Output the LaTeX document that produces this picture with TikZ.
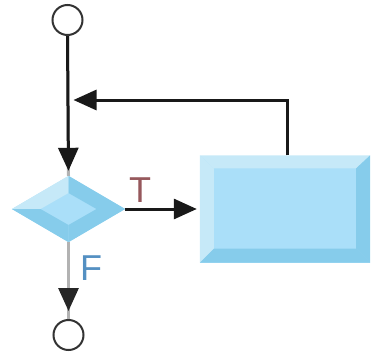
\documentclass[tikz,border=0pt]{standalone}
\usepackage{fontspec}
\setsansfont{Liberation Sans}
\usetikzlibrary{shapes.geometric, arrows.meta, positioning, calc}
\definecolor{fcmid}{RGB}{170,223,249}
\definecolor{fclight}{RGB}{198,233,248}
\definecolor{fcdark}{RGB}{134,204,235}
\definecolor{fcgrey}{RGB}{178,178,178}
\definecolor{fctrue}{RGB}{150,88,92}
\definecolor{fcfalse}{RGB}{84,144,194}

\begin{document}
\begin{tikzpicture}[
  x=1pt, y=-1pt,
  fcline/.style={draw=black!90, line width=3pt},
  fcgline/.style={draw=fcgrey, line width=3pt},
  fcarrow/.style={fcline, -{Triangle[length=23pt, width=20pt, color=black!90]}},
  fcterm/.style={circle, draw=black!80, line width=2pt, fill=white, minimum size=30pt, inner sep=0pt},
  fcdec/.style={diamond, fill=fcmid, minimum width=113pt, minimum height=66pt, inner sep=0pt},
  fcproc/.style={rectangle, fill=fcmid, minimum width=170pt, minimum height=107pt, inner sep=0pt},
  lab/.style={font=\sffamily\fontsize{36}{36}\selectfont, inner sep=0pt}
]
\useasboundingbox (0,0) rectangle (375,361);

%--------------------------------------------------------------
% Nodi
%--------------------------------------------------------------
\node[fcterm] (start) at (67.5,20) {};
\node[fcdec]  (dec)   at (68.5,209) {};
\node[fcproc] (proc)  at (285,209) {};
\node[fcterm] (stop)  at (68.5,335) {};

% smussatura del rombo
\fill[fclight] (dec.west) -- (dec.north) -- ($(dec.center)+(0,-16)$) -- ($(dec.center)+(-28,0)$) -- cycle;
\fill[fcdark] (dec.north) -- (dec.east) -- ($(dec.center)+(28,0)$) -- ($(dec.center)+(0,-16)$) -- cycle;
\fill[fcdark] (dec.east) -- (dec.south) -- ($(dec.center)+(0,16)$) -- ($(dec.center)+(28,0)$) -- cycle;
\fill[fcdark] (dec.south) -- (dec.west) -- ($(dec.center)+(-28,0)$) -- ($(dec.center)+(0,16)$) -- cycle;

% smussatura del rettangolo
\fill[fclight] (proc.north west) -- (proc.north east) -- ($(proc.north east)+(-14,13)$)
  -- ($(proc.north west)+(14,13)$) -- cycle;
\fill[fclight] (proc.north west) -- ($(proc.north west)+(14,13)$)
  -- ($(proc.south west)+(14,-14)$) -- (proc.south west) -- cycle;
\fill[fcdark] (proc.north east) -- (proc.south east) -- ($(proc.south east)+(-14,-14)$)
  -- ($(proc.north east)+(-14,13)$) -- cycle;
\fill[fcdark] (proc.south west) -- (proc.south east) -- ($(proc.south east)+(-14,-14)$)
  -- ($(proc.south west)+(14,-14)$) -- cycle;

%--------------------------------------------------------------
% Collegamenti
%--------------------------------------------------------------
\draw[fcgline] (start.south) -- (dec.north);
\draw[fcarrow, shorten >=5pt] (start.south) -- (dec.north);

\draw[fcarrow, shorten >=3pt] (dec.east) -- (proc.west);

\coordinate (merge) at (start.south |- 0,100);
\draw[fcarrow] ([xshift=2pt]proc.north) -- ([xshift=2pt]proc.north |- merge) -- ([xshift=6pt]merge);

\draw[fcgline] (dec.south) -- (stop.north);
\draw[fcgline, -{Triangle[length=23pt, width=20pt, color=black!85]}, shorten >=8pt]
  (dec.south) -- (stop.north);

% etichette
\node[lab, text=fctrue]  (ltrue)  at (140,190) {T};
\node[lab, text=fcfalse] (lfalse) at (91,268) {F};

\end{tikzpicture}
\end{document}
